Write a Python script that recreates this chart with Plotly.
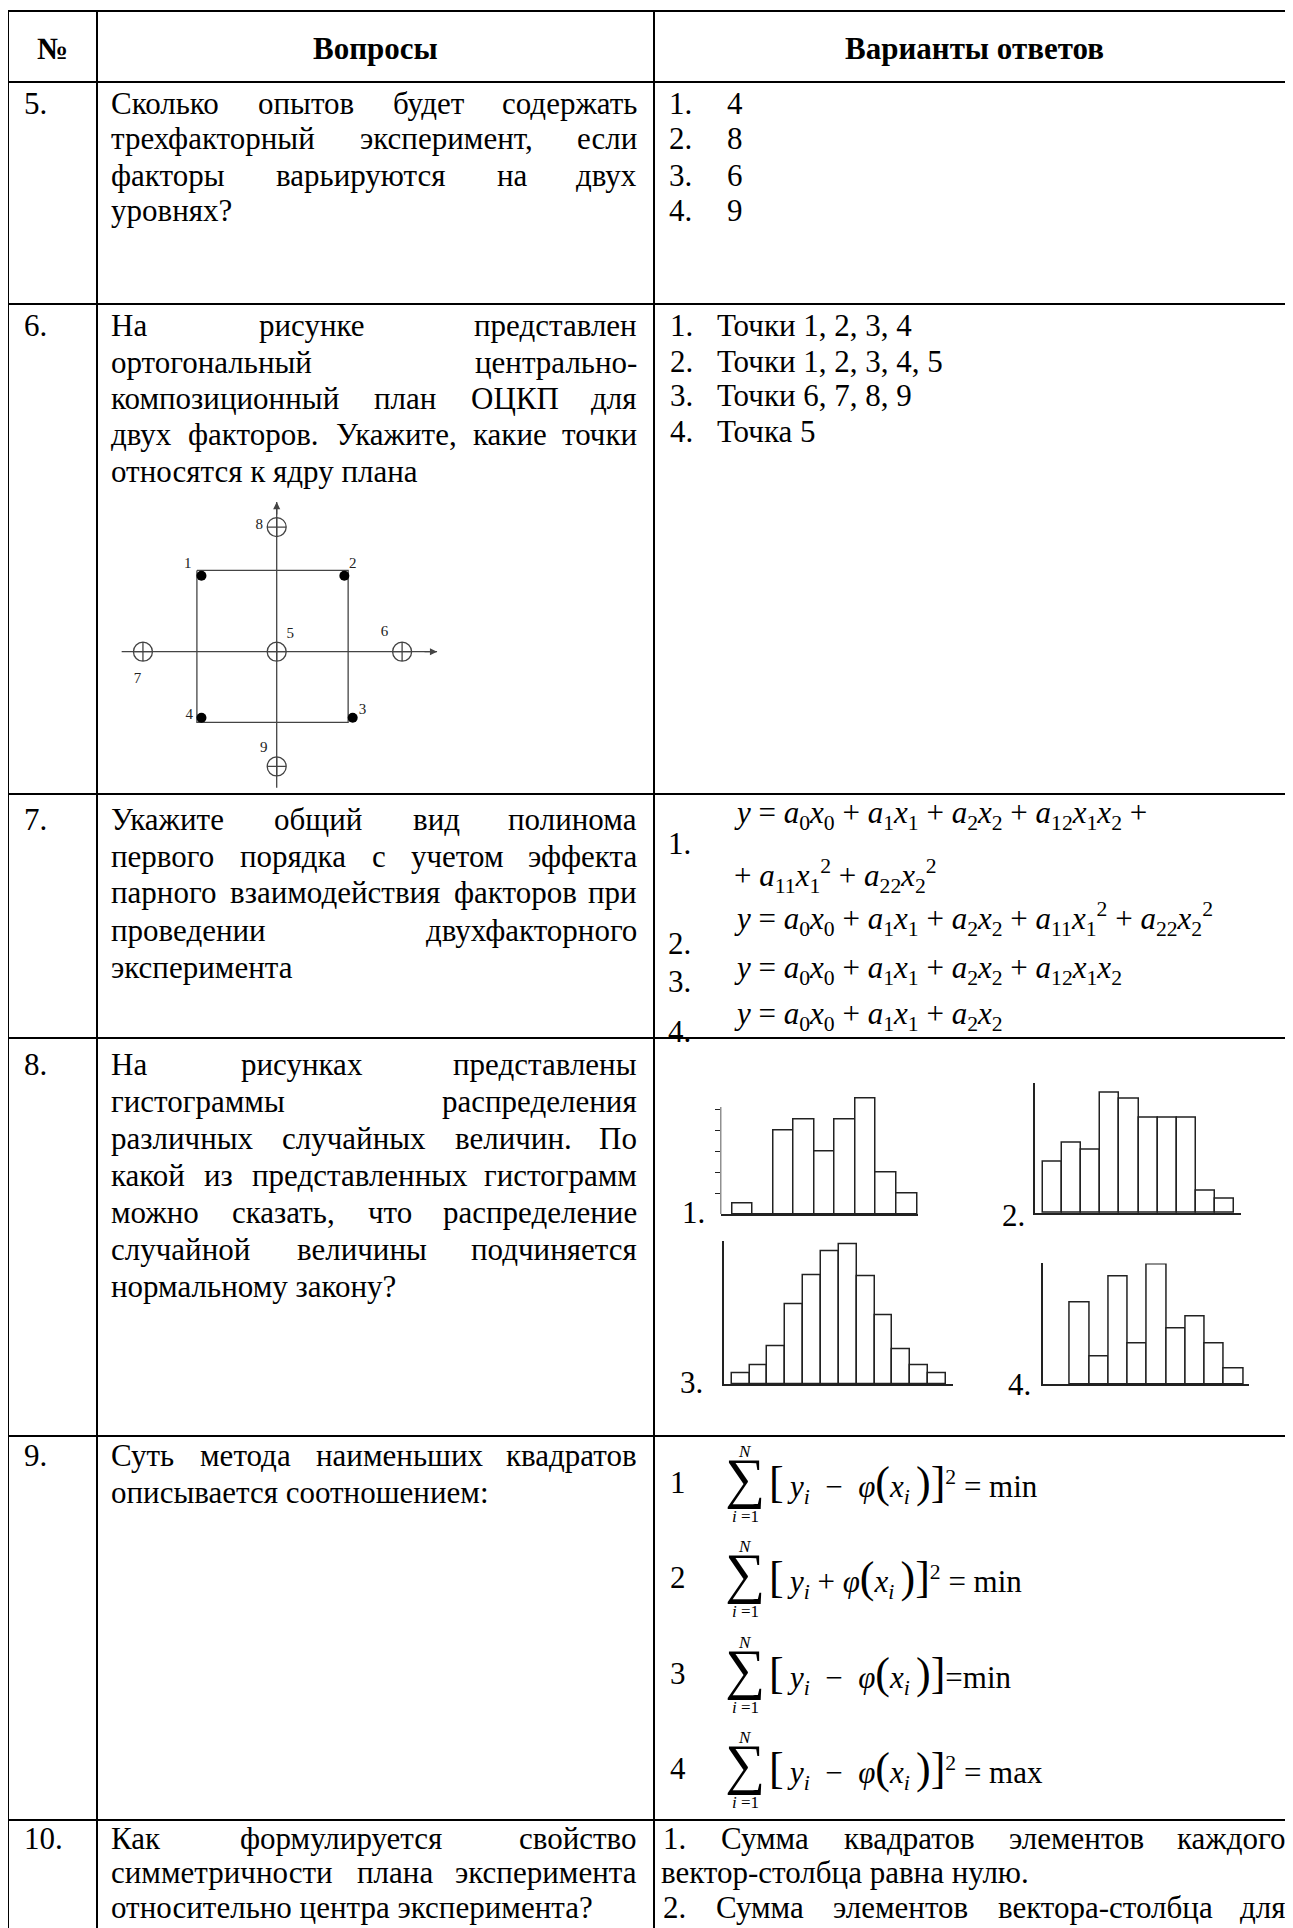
import glob
import plotly.graph_objects as go

W, H = 1293, 1928
OFF = 8  # the page body margin shifts the figure by this many pixels
SERIF = "Liberation Serif"
FS = 31

# ---------------- data ----------------
header_labels = ["№", "Вопросы", "Варианты ответов"]
question_numbers = ["5.", "6.", "7.", "8.", "9.", "10."]

question_lines = [
    ["Сколько опытов будет содержать", "трехфакторный эксперимент, если",
     "факторы варьируются на двух", "уровнях?"],
    ["На рисунке представлен", "ортогональный центрально-",
     "композиционный план ОЦКП для", "двух факторов. Укажите, какие точки",
     "относятся к ядру плана"],
    ["Укажите общий вид полинома", "первого порядка с учетом эффекта",
     "парного взаимодействия факторов при", "проведении двухфакторного",
     "эксперимента"],
    ["На рисунках представлены", "гистограммы распределения",
     "различных случайных величин. По", "какой из представленных гистограмм",
     "можно сказать, что распределение", "случайной величины подчиняется",
     "нормальному закону?"],
    ["Суть метода наименьших квадратов", "описывается соотношением:"],
    ["Как формулируется свойство", "симметричности плана эксперимента",
     "относительно центра эксперимента?"],
]

answers_q5 = ["4", "8", "6", "9"]
answers_q6 = ["Точки 1, 2, 3, 4", "Точки 1, 2, 3, 4, 5", "Точки 6, 7, 8, 9", "Точка 5"]
answers_q10 = ["1. Сумма квадратов элементов каждого", "вектор-столбца равна нулю.",
               "2. Сумма элементов вектора-столбца для"]
answers_q10_justified = [True, False, True]

# OCKP plan (coded factor units)
core_x = [-0.99, 0.89, 1.0, -0.99]
core_y = [1.0, 1.0, -0.87, -0.87]
star_x = [0.0, 1.65, -1.76, 0.0, 0.0]
star_y = [0.0, 0.0, 0.0, 1.64, -1.51]
square_x = [-1.05, 0.94, 0.94, -1.05, -1.05]
square_y = [1.07, 1.07, -0.93, -0.93, 1.07]
axis_h = [-2.04, 2.11]
axis_v = [-1.79, 1.97]
point_labels = ["1", "2", "3", "4", "5", "6", "7", "8", "9"]
label_x = [-1.17, 1.0, 1.13, -1.15, 0.18, 1.42, -1.83, -0.23, -0.17]
label_y = [1.15, 1.15, -0.77, -0.83, 0.23, 0.25, -0.36, 1.67, -1.27]

# polynomial variants (question 7)
poly_terms = {
    "0": [("0", 1)], "1": [("1", 1)], "2": [("2", 1)],
    "12": [("1", 1), ("2", 1)], "11": [("1", 2)], "22": [("2", 2)],
}
poly_variants = [["0", "1", "2", "12", "11", "22"], ["0", "1", "2", "11", "22"],
                 ["0", "1", "2", "12"], ["0", "1", "2"]]
poly_split = [4, None, None, None]

# histograms (question 8), bar heights
hist_1 = [0.5, 0, 4, 4.5, 3, 4.5, 5.5, 2, 1]
hist_2 = [5.4, 7.4, 6.7, 12.7, 12.0, 10.0, 10.0, 10.0, 2.3, 1.5]
hist_3 = [1.6, 2.7, 5.4, 11.4, 15.6, 19.0, 20.0, 15.4, 9.9, 5.0, 2.7, 1.6]
hist_4 = [6.8, 2.3, 9.0, 3.4, 10.0, 4.6, 5.6, 3.4, 1.3]
hist_labels = ["1.", "2.", "3.", "4."]

# least squares variants (question 9)
lsq_sign = ["−", "+", "−", "−"]
lsq_power = ["2", "2", "", "2"]
lsq_goal = ["min", "min", "min", "max"]

# ---------------- layout (page pixels) ----------------
COLS = [8, 97, 654, 1294]
ROWS = [11, 82, 304, 794, 1038, 1436, 1820]
FIRST = [103, 326, 819, 1064, 1455, 1838]
STEP = [36, 36.3, 37, 37, 37, 34.5]
Q_LEFT, Q_RIGHT = 110, 638
NUM_X = 23


# text width, for justified lines
_font_cache = {}
try:
    from PIL import ImageFont
    _paths = glob.glob("/usr/share/fonts/**/LiberationSerif-Regular.ttf", recursive=True)
    _PIL_PATH = _paths[0] if _paths else None
except Exception:
    _PIL_PATH = None

_W = {
    'а': 444, 'б': 509, 'в': 472, 'г': 410, 'д': 509, 'е': 444, 'ж': 691, 'з': 395,
    'и': 535, 'й': 535, 'к': 486, 'л': 499, 'м': 633, 'н': 535, 'о': 500, 'п': 535,
    'р': 500, 'с': 444, 'т': 437, 'у': 500, 'ф': 648, 'х': 500, 'ц': 535, 'ч': 503,
    'ш': 770, 'щ': 770, 'ъ': 517, 'ы': 672, 'ь': 456, 'э': 429, 'ю': 747, 'я': 482,
    'К': 667, 'Н': 722, 'О': 722, 'П': 722, 'С': 667, 'Т': 611, 'У': 715, 'Ц': 722,
    ' ': 250, ',': 250, '.': 250, '?': 444, ':': 278, '-': 333,
}


def text_width(s, size):
    if _PIL_PATH:
        try:
            if size not in _font_cache:
                _font_cache[size] = ImageFont.truetype(_PIL_PATH, size)
            return _font_cache[size].getlength(s)
        except Exception:
            pass
    return sum(_W.get(c, 500) for c in s) * size / 1000.0


def px(x):
    return (x - OFF) / W


def py(y):
    return 1 - (y - OFF) / H


annotations = []
shapes = []


def txt(text, x, y, size=FS, anchor="left"):
    annotations.append(dict(
        x=px(x), y=py(y), xref="paper", yref="paper", text=text, showarrow=False,
        xanchor=anchor, yanchor="middle", borderpad=0,
        font=dict(family=SERIF, size=size, color="black"),
    ))


def justified(text, y, left, right, size=FS):
    words = text.split()
    widths = [text_width(w, size) for w in words]
    if len(words) == 1:
        txt(text, left, y, size)
        return
    gap = (right - left - sum(widths)) / (len(words) - 1)
    x = left
    for i, (w, ww) in enumerate(zip(words, widths)):
        if i == len(words) - 1:
            txt(w, right, y, size, anchor="right")
        else:
            txt(w, x, y, size)
        x += ww + gap


# table grid
for x in COLS:
    shapes.append(dict(type="line", xref="paper", yref="paper", x0=px(x), x1=px(x),
                       y0=py(ROWS[0]), y1=py(H + 20), line=dict(color="black", width=2)))
for y in ROWS:
    shapes.append(dict(type="line", xref="paper", yref="paper", x0=px(COLS[0]), x1=px(COLS[-1]),
                       y0=py(y), y1=py(y), line=dict(color="black", width=2)))

# header
for lab, a, b in zip(header_labels, COLS[:-1], COLS[1:]):
    txt(f"<b>{lab}</b>", (a + b) / 2, 48, anchor="center")

# question column
for num, lines, y0, st in zip(question_numbers, question_lines, FIRST, STEP):
    txt(num, NUM_X, y0)
    for k, line in enumerate(lines):
        y = y0 + k * st
        if k < len(lines) - 1:
            justified(line, y, Q_LEFT, Q_RIGHT)
        else:
            txt(line, Q_LEFT, y)

# answers 5, 6
for k, a in enumerate(answers_q5):
    y = FIRST[0] + k * STEP[0]
    txt(f"{k + 1}.", 668, y)
    txt(a, 726, y)
for k, a in enumerate(answers_q6):
    y = 326 + k * 35
    txt(f"{k + 1}.", 669, y)
    txt(a, 716, y)


# answers 7: polynomials
def poly_term(key):
    s = f"<i>a</i><sub>{key}</sub>"
    for v, p in poly_terms[key]:
        s += f"<i>x</i><sub>{v}</sub>"
        if p > 1:
            s += f"<sup>{p}</sup>"
    return s


POLY_Y = [(815, 876), (919,), (970,), (1016,)]
POLY_NUM_Y = [843, 943, 981, 1031]
for k, (terms, split) in enumerate(zip(poly_variants, poly_split)):
    rendered = [poly_term(t) for t in terms]
    txt(f"{k + 1}.", 667, POLY_NUM_Y[k])
    if split:
        txt("<i>y</i> = " + " + ".join(rendered[:split]) + " +", 733, POLY_Y[k][0])
        txt("+ " + " + ".join(rendered[split:]), 733, POLY_Y[k][1])
    else:
        txt("<i>y</i> = " + " + ".join(rendered), 733, POLY_Y[k][0])

# answers 8: labels for histograms
for lab, (x, y) in zip(hist_labels, [(681, 1212), (1001, 1215), (679, 1382), (1007, 1384)]):
    txt(lab, x, y)


# answers 9: least squares
def big(c, size=44):
    return f'<span style="font-size:{size}px">{c}</span>'


LSQ_Y = [1482, 1577, 1673, 1768]
for k, (sg, pw, goal) in enumerate(zip(lsq_sign, lsq_power, lsq_goal)):
    yc = LSQ_Y[k]
    txt(str(k + 1), 669, yc)
    txt("\u2211", 745, yc - 4, size=56, anchor="center")
    txt("<i>N</i>", 745, yc - 31, size=17, anchor="center")
    txt("<i>i</i> =1", 745, yc + 34, size=17, anchor="center")
    sup = f"<sup>{pw}</sup>" if pw else ""
    sep = "\u00a0" if sg == "−" else ""
    expr = (big("[") + "\u2009<i>y</i><sub><i>i</i></sub>" + sep + f" {sg}" + sep + " "
            + "<i>φ</i>" + big("(") + "<i>x</i><sub><i>i</i></sub>\u2009" + big(")") + big("]")
            + sup + (" = " if pw else "=") + goal)
    txt(expr, 768, yc + 1)

# answers 10
for k, (line, just) in enumerate(zip(answers_q10, answers_q10_justified)):
    y = 1838 + k * 34.5
    if just:
        justified(line, y, 662, 1287)
    else:
        txt(line, 660, y)

# ---------------- figure ----------------
fig = go.Figure()
LINE = "#444444"

# plan diagram on x/y
fig.add_trace(go.Scatter(x=axis_h, y=[0, 0], mode="lines", line=dict(color=LINE, width=1.3),
                         xaxis="x", yaxis="y"))
fig.add_trace(go.Scatter(x=[0, 0], y=axis_v, mode="lines", line=dict(color=LINE, width=1.3),
                         xaxis="x", yaxis="y"))
fig.add_trace(go.Scatter(x=square_x, y=square_y, mode="lines", line=dict(color=LINE, width=1.3),
                         xaxis="x", yaxis="y"))
fig.add_trace(go.Scatter(x=star_x, y=star_y, mode="markers", xaxis="x", yaxis="y",
                         marker=dict(symbol="circle-cross-open", size=19, color=LINE,
                                     line=dict(width=1.3, color=LINE))))
fig.add_trace(go.Scatter(x=core_x, y=core_y, mode="markers", xaxis="x", yaxis="y",
                         marker=dict(symbol="circle", size=10, color="black")))
fig.add_trace(go.Scatter(x=label_x, y=label_y, mode="text", text=point_labels, xaxis="x", yaxis="y",
                         textfont=dict(family=SERIF, size=15, color="#222")))
for x, y, ax, ay in [(axis_h[1], 0, -14, 0), (0, axis_v[1], 0, 14)]:
    annotations.append(dict(x=x, y=y, xref="x", yref="y", ax=ax, ay=ay, text="",
                            showarrow=True, arrowhead=2, arrowsize=1.1, arrowwidth=1.3,
                            arrowcolor=LINE, standoff=0))

# plan axes: 76 px per unit, origin at (276.7, 651.7)
U, OX, OY = 76, 276.7, 651.7
xr, yr = [-2.3, 2.3], [-2.2, 2.3]
layout_axes = dict(
    xaxis=dict(domain=[px(OX + xr[0] * U), px(OX + xr[1] * U)], range=xr, visible=False, anchor="y"),
    yaxis=dict(domain=[py(OY - yr[0] * U), py(OY - yr[1] * U)], range=yr, visible=False, anchor="x"),
)

# histograms: first bar px, bin px, axis px, axis end px, baseline px, unit px, y top
HIST_GEOM = [
    (732, 20.56, 720.5, 918, 1214, 21, 5.6),
    (1043, 19.1, 1035, 1241, 1213, 9.5, 13.7),
    (731.7, 17.86, 724, 953, 1384, 7, 20.4),
    (1070, 19.26, 1042.7, 1249, 1384, 12, 10.05),
]
for i, (vals, geom) in enumerate(zip([hist_1, hist_2, hist_3, hist_4], HIST_GEOM), start=2):
    first, binw, axpx, endpx, base, unit, ytop = geom
    fig.add_trace(go.Bar(x=[j + 0.5 for j in range(len(vals))], y=vals, width=1,
                         xaxis=f"x{i}", yaxis=f"y{i}",
                         marker=dict(color="white", line=dict(color="#222", width=1.5))))
    x_range = [(axpx - first) / binw, (endpx - first) / binw]
    layout_axes[f"xaxis{i}"] = dict(
        domain=[px(axpx), px(endpx)], range=x_range, anchor=f"y{i}",
        showline=True, linecolor="#222", linewidth=2, showgrid=False, zeroline=False,
        showticklabels=False, ticks="")
    ax_y = dict(
        domain=[py(base), py(base - ytop * unit)], range=[0, ytop], anchor=f"x{i}",
        showline=(i != 2), linecolor="#222", linewidth=1.5, showgrid=False, zeroline=False,
        showticklabels=False, ticks="")
    if i == 2:
        ax_y.update(ticks="outside", tickvals=[1, 2, 3, 4, 5], ticklen=5, tickwidth=1.2,
                    tickcolor="#222")
        shapes.append(dict(type="line", xref="x2", yref="y2", x0=x_range[0], x1=x_range[0],
                           y0=0, y1=5.1, line=dict(color="#222", width=1.5)))
    layout_axes[f"yaxis{i}"] = ax_y

fig.update_layout(
    width=W, height=H, margin=dict(l=0, r=0, t=0, b=0),
    paper_bgcolor="white", plot_bgcolor="rgba(0,0,0,0)",
    showlegend=False, bargap=0,
    shapes=shapes, annotations=annotations,
    **layout_axes,
)

fig.write_html("out.html")
